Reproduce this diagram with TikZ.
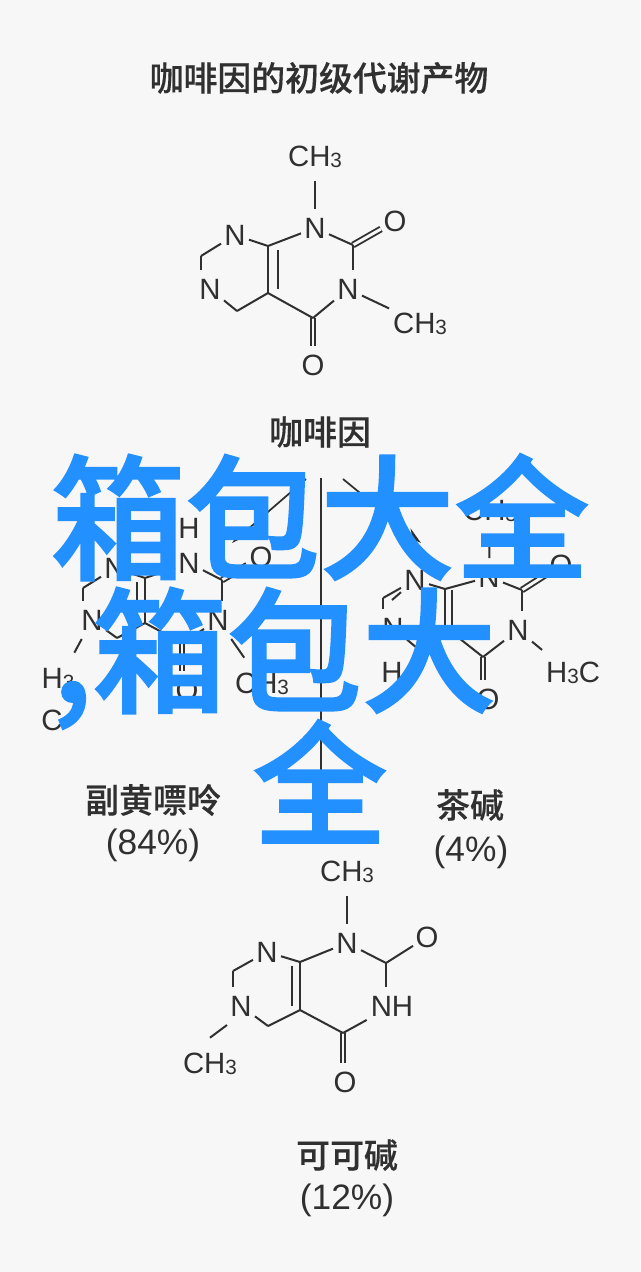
\documentclass[tikz,border=0pt]{standalone}
\usepackage{fontspec}
\setmainfont{Liberation Sans}
\newfontfamily\cjkmed{Noto Sans CJK SC Medium}[FakeBold=0.4]
\newfontfamily\cjkheavy{Noto Sans CJK SC Medium}[FakeBold=1.6]
\usetikzlibrary{arrows.meta,positioning}
\definecolor{pagegrey}{RGB}{247,247,247}
\definecolor{inkgrey}{RGB}{48,48,48}
\definecolor{brandblue}{RGB}{34,144,255}
\newcommand{\atomsub}[1]{\raisebox{-1pt}[0pt][0pt]{\fontsize{15.5}{16}\selectfont #1}}
\tikzset{
  atom/.style={inner sep=0pt, outer sep=0pt, minimum width=21pt, minimum height=28.5pt, text=inkgrey, font=\fontsize{22}{22}\selectfont},
  methyl/.style={atom, inner xsep=3pt, minimum height=38pt},
  bond/.style={draw=inkgrey, line width=1.5pt},
  dbond/.style={draw=inkgrey, line width=1.4pt, double=pagegrey, double distance=2.2pt},
  flow/.style={draw=inkgrey, line width=1.3pt, -{Stealth[length=13pt,width=7pt]}},
  caption/.style={inner sep=0pt, text=inkgrey, font=\fontsize{25.4}{30}\selectfont\cjkmed},
  percent/.style={inner sep=0pt, text=inkgrey, font=\fontsize{26.5}{30}\selectfont},
  overlay text/.style={inner sep=0pt, text=brandblue, font=\fontsize{101}{101}\selectfont\cjkheavy}
}
\begin{document}
\begin{tikzpicture}[x=0.75pt,y=-0.75pt]
	\useasboundingbox (0,0) rectangle (640,1272);
	\fill[pagegrey] (0,0) rectangle (640,1272);

	% Top molecule
	\node[caption] (title) at (319,78) {咖啡因的初级代谢产物};
	\node[methyl] (tme1) at (315,156) {CH\atomsub{3}};
	\node[atom] (tn1) at (315,228) {N};
	\node[atom] (to2) at (395,221) {O};
	\node[atom] (tn3) at (348,289) {N};
	\node[methyl] (tme3) at (420,323) {CH\atomsub{3}};
	\node[atom] (to4) at (313,365) {O};
	\node[atom] (tn8) at (235,235) {N};
	\node[atom] (tn6) at (210,289) {N};
	\coordinate (tc2) at (353,245);
	\coordinate (tc4) at (313,318);
	\coordinate (tc4a) at (268,293);
	\coordinate (tc8a) at (268,246);
	\coordinate (tc7) at (201,256);
	\coordinate (tc5) at (237,311);
	\draw[dbond] (tc2) -- (to2);
	\draw[dbond] (tc4) -- (to4);
	\draw[bond] (tme1) -- (tn1);
	\draw[bond] (tn1) -- (tc2);
	\draw[bond] (tc2) -- (tc2 |- tn3.north);
	\draw[bond] (tn3) -- (tme3);
	\draw[bond] (tn3) -- (tc4);
	\draw[bond] (tc4) -- (tc4a);
	\draw[bond] (tc4a) -- (tc8a);
	\draw[bond] ([shift={(10,4)}]tc8a) -- ([shift={(10,-4)}]tc4a);
	\draw[bond] (tc8a) -- (tn1);
	\draw[bond] (tc8a) -- (tn8);
	\draw[bond] (tn8) -- (tc7);
	\draw[bond] (tc7) -- (tc7 |- tn6.north);
	\draw[bond] (tn6) -- (tc5);
	\draw[bond] (tc5) -- (tc4a);

	% Arrows from the caffeine label
	\node[caption] (caffeine) at (320,432) {咖啡因};
	\coordinate (flowtop) at (321,478);
	\coordinate (flowend) at (321,840);
	\coordinate (lefttop) at (306,479);
	\coordinate (leftend) at (232,543);
	\coordinate (righttop) at (343,479);
	\coordinate (rightend) at (421,543);
	\draw[bond] (flowtop) -- (flowend);
	\draw[flow] (lefttop) -- (leftend);
	\draw[flow] (righttop) -- (rightend);

	% Left molecule
	\node[atom] (lh1) at (189,528) {H};
	\node[atom] (ln1) at (189,563) {N};
	\node[atom] (lo2) at (261,557) {O};
	\node[atom] (ln3) at (218,620) {N};
	\node[methyl] (lme3) at (262,683) {CH\atomsub{3}};
	\node[atom] (lo4) at (187,690) {O};
	\node[atom] (ln9) at (115,568) {N};
	\node[atom] (ln7) at (92,620) {N};
	\node[methyl] (lme7a) at (58,678) {H\atomsub{3}};
	\node[atom] (lme7b) at (52,720) {C};
	\coordinate (lc2) at (222,580);
	\coordinate (lc4) at (182,643);
	\coordinate (lc4a) at (145,623);
	\coordinate (lc8a) at (145,578);
	\coordinate (lc8) at (83,588);
	\coordinate (lc5) at (117,638);
	\draw[dbond] (lc2) -- (lo2);
	\draw[dbond] (lc4) -- (lc4 |- lo4.north);
	\draw[bond] (ln1) -- (lc2);
	\draw[bond] (lc2) -- (lc2 |- ln3.north);
	\draw[bond] ([shift={(11,16)}]ln3) -- ([shift={(-9,-23)}]lme3);
	\draw[bond] (ln3) -- (lc4);
	\draw[bond] (lc4) -- (lc4a);
	\draw[bond] (lc4a) -- (lc8a);
	\draw[bond] ([shift={(-8,4)}]lc8a) -- ([shift={(-8,-4)}]lc4a);
	\draw[bond] (lc8a) -- (ln1);
	\draw[bond] (lc8a) -- (ln9);
	\draw[bond] (ln9) -- (lc8);
	\draw[bond] (lc8) -- (lc8 |- ln7.north);
	\draw[bond] (ln7) -- (lc5);
	\draw[bond] (lc5) -- (lc4a);
	\draw[bond] ([shift={(-3,10)}]ln7) -- ([shift={(17,-21)}]lme7a);

	\node[caption] (xanthine) at (153,800) {副黄嘌呤};
	\node[percent] (xanthinepct) at (153,845) {(84\%)};

	% Right molecule
	\node[methyl] (rme1) at (490,510) {CH\atomsub{3}};
	\node[atom] (rn1) at (489,577) {N};
	\node[atom] (ro2) at (561,565) {O};
	\node[atom] (rn3) at (518,630) {N};
	\node[methyl] (rme3) at (573,672) {H\atomsub{3}C};
	\node[atom] (ro4) at (488,699) {O};
	\node[atom] (rn9) at (415,580) {N};
	\node[atom] (rn7) at (393,628) {N};
	\node[atom] (rh7) at (392,672) {H};
	\coordinate (rc2) at (522,590);
	\coordinate (rc4) at (483,657);
	\coordinate (rc4a) at (445,627);
	\coordinate (rc8a) at (445,589);
	\coordinate (rc8) at (383,598);
	\coordinate (rc5) at (417,648);
	\draw[dbond] (rc2) -- (ro2);
	\draw[dbond] (rc4) -- (rc4 |- ro4.north);
	\draw[bond] (rme1) -- (rn1);
	\draw[bond] (rn1) -- (rc2);
	\draw[bond] (rc2) -- (rc2 |- rn3.north);
	\draw[bond] ([shift={(13,12)}]rn3) -- ([shift={(-24,-18)}]rme3);
	\draw[bond] (rn3) -- (rc4);
	\draw[bond] (rc4) -- (rc4a);
	\draw[bond] (rc4a) -- (rc8a);
	\draw[bond] ([shift={(7,1)}]rc8a) -- ([shift={(7,-1)}]rc4a);
	\draw[bond] (rc8a) -- (rn1);
	\draw[bond] (rc8a) -- (rn9);
	\draw[bond] (rn9) -- (rc8);
	\draw[bond] ([shift={(9,2)}]rc8) -- ([shift={(-12,13)}]rn9);
	\draw[bond] (rc8) -- (rc8 |- rn7.north);
	\draw[bond] (rn7) -- (rc5);
	\draw[bond] (rc5) -- (rc4a);

	\node[caption] (theophylline) at (470,805) {茶碱};
	\node[percent] (theophyllinepct) at (471,852) {(4\%)};

	% Bottom molecule
	\node[methyl] (bme1) at (347,871) {CH\atomsub{3}};
	\node[atom] (bn1) at (347,943) {N};
	\node[atom] (bo2) at (427,937) {O};
	\node[atom, minimum width=38pt] (bn3) at (392,1006) {NH};
	\node[atom] (bo4) at (345,1082) {O};
	\node[atom] (bn8) at (267,952) {N};
	\node[atom] (bn6) at (241,1006) {N};
	\node[methyl] (bme6) at (210,1063) {CH\atomsub{3}};
	\coordinate (bc2) at (386,963);
	\coordinate (bc4) at (343,1033);
	\coordinate (bc4a) at (300,1010);
	\coordinate (bc8a) at (300,962);
	\coordinate (bc7) at (233,971);
	\coordinate (bc5) at (268,1026);
	\draw[dbond] (bc4) -- (bc4 |- bo4.north);
	\draw[bond] (bme1) -- (bn1);
	\draw[bond] (bn1) -- (bc2);
	\draw[bond] (bc2) -- (bo2);
	\draw[bond] (bc2) -- (bc2 |- bn3.north);
	\draw[bond] (bn3) -- (bc4);
	\draw[bond] (bc4) -- (bc4a);
	\draw[bond] (bc4a) -- (bc8a);
	\draw[bond] ([shift={(-8,4)}]bc8a) -- ([shift={(-8,-4)}]bc4a);
	\draw[bond] (bc8a) -- (bn1);
	\draw[bond] (bc8a) -- (bn8);
	\draw[bond] (bn8) -- (bc7);
	\draw[bond] (bc7) -- (bc7 |- bn6.north);
	\draw[bond] (bn6) -- (bc5);
	\draw[bond] (bc5) -- (bc4a);
	\draw[bond] (bn6.south west) -- (bme6.north);

	\node[caption] (theobromine) at (347,1155) {可可碱};
	\node[percent] (theobrominepct) at (347,1200) {(12\%)};

	% Big blue text on top
	\node[overlay text, anchor=base] (line1) at (320,569) {箱包大全};
	\node[overlay text, anchor=base west] (line2) at (52,702) {,箱包大};
	\node[overlay text, anchor=base] (line3) at (320,835) {全};
\end{tikzpicture}
\end{document}
